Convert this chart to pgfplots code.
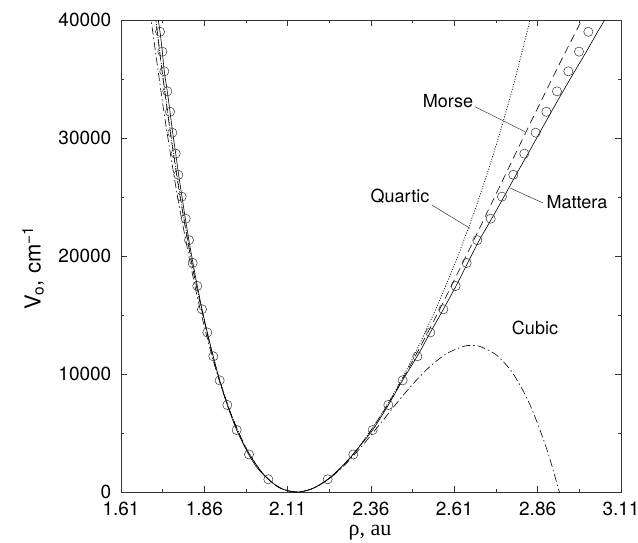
\documentclass[border=0pt]{standalone}
\usepackage{fontspec}
\setmainfont{TeX Gyre Heros}
\newfontfamily\serif{Liberation Serif}
\usepackage{pgfplots}
\pgfplotsset{compat=1.18}

\begin{document}
\begin{tikzpicture}[x=1pt,y=1pt]
\useasboundingbox (0,0) rectangle (638,542);
\begin{axis}[
  at={(121pt,50pt)}, anchor=south west,
  scale only axis, width=500pt, height=472pt,
  xmin=1.61, xmax=3.11, ymin=0, ymax=40000,
  scaled x ticks=false, scaled y ticks=false,
  xtick={1.61,1.86,2.11,2.36,2.61,2.86,3.11},
  xticklabels={1.61,1.86,2.11,2.36,2.61,2.86,3.11},
  ytick={0,10000,20000,30000,40000},
  yticklabels={0,10000,20000,30000,40000},
  minor x tick num=1, minor y tick num=1,
  major tick length=6pt, minor tick length=3pt,
  tick style={black!80, line width=0.5pt},
  axis line style={line width=0.6pt, black!80},
  tick label style={font=\fontsize{19}{21}\selectfont, inner sep=0.5pt},
  xticklabel style={yshift=-9.5pt},
  yticklabel style={xshift=-9pt},
  xlabel={{\serif ρ, au}},
  ylabel={V\textsubscript{o}, cm\textsuperscript{−1}},
  label style={font=\fontsize{22}{25}\selectfont},
  x label style={at={(axis description cs:0.498,-0.086)}, anchor=center},
  y label style={at={(axis description cs:-0.176,0.474)}, anchor=center},
]
% Mattera (solid)
\addplot[black, line width=0.6pt, smooth] coordinates {
(1.719,40500) (1.727,39010) (1.734,37316) (1.740,35620) (1.749,33925) (1.757,32230)
(1.765,30450) (1.774,28705) (1.783,26866) (1.793,25027) (1.803,23162) (1.814,21298)
(1.826,19382) (1.839,17459) (1.853,15484) (1.869,13500) (1.887,11467) (1.906,9433)
(1.929,7373) (1.957,5255) (1.994,3136) (2.020,2000) (2.052,1076) (2.080,440)
(2.100,180) (2.120,40) (2.137,0) (2.155,42) (2.175,190) (2.200,520) (2.230,1076)
(2.265,1950) (2.307,3200) (2.335,4200) (2.365,5255) (2.412,7373) (2.455,9480)
(2.499,11520) (2.538,13520) (2.577,15484) (2.615,17459) (2.650,19410) (2.685,21340)
(2.722,23162) (2.759,25027) (2.795,26880) (2.831,28675) (2.866,30450) (2.901,32220)
(2.936,33955) (2.971,35650) (3.006,37316) (3.040,39000) (3.061,40000) (3.072,40600)
};
% Morse (dashed)
\addplot[black, line width=0.6pt, dash pattern=on 8pt off 5pt, smooth] coordinates {
(1.712,40555) (1.737,34828) (1.762,29677) (1.787,25074) (1.812,20967) (1.837,17327)
(1.887,11326) (1.937,6826) (1.987,3620) (2.037,1517) (2.087,358) (2.137,0)
(2.187,319) (2.237,1204) (2.287,2561) (2.337,4311) (2.387,6375) (2.437,8692)
(2.487,11210) (2.537,13876) (2.587,16663) (2.637,19520) (2.687,22430) (2.737,25357)
(2.787,28286) (2.837,31205) (2.887,34090) (2.937,36930) (2.987,39708) (2.997,40270)
};
% Quartic (dotted)
\addplot[black, line width=0.7pt, dash pattern=on 1pt off 1.6pt, smooth] coordinates {
(1.707,41840) (1.717,39460) (1.737,34955) (1.762,29830) (1.787,25225) (1.812,21112)
(1.837,17460) (1.887,11416) (1.937,6877) (1.987,3640) (2.037,1523) (2.087,358)
(2.137,0) (2.187,318) (2.237,1202) (2.287,2557) (2.337,4309) (2.387,6399)
(2.437,8791) (2.487,11462) (2.537,14410) (2.587,17650) (2.637,21212) (2.687,25148)
(2.737,29534) (2.787,34450) (2.837,40000) (2.857,42440)
};
% Cubic (dash-dot)
\addplot[black, line width=0.6pt, dash pattern=on 8pt off 3pt on 1.5pt off 3pt, smooth] coordinates {
(1.697,40730) (1.702,39646) (1.737,32564) (1.762,28019) (1.787,23880) (1.837,16776)
(1.887,11114) (1.937,6771) (1.987,3616) (2.037,1521) (2.087,359) (2.137,0)
(2.187,316) (2.237,1179) (2.287,2459) (2.337,4029) (2.387,5761) (2.437,7525)
(2.487,9193) (2.537,10636) (2.587,11728) (2.637,12336) (2.662,12420) (2.687,12333)
(2.737,11596) (2.787,9992) (2.837,7389) (2.887,3668) (2.925,0) (2.935,-1092)
};
% ab initio points
\addplot[only marks, mark=o, mark size=4.6pt, mark options={line width=0.5pt, black!80}] coordinates {
(1.727,39000) (1.734,37316) (1.740,35650) (1.749,33955) (1.757,32220) (1.764,30450)
(1.774,28675) (1.782,26880) (1.792,25027) (1.804,23162) (1.814,21340) (1.825,19410)
(1.839,17459) (1.853,15484) (1.869,13520) (1.887,11500) (1.906,9460) (1.929,7373)
(1.957,5255) (1.994,3180) (2.052,1076)
(2.230,1076) (2.307,3180) (2.365,5255) (2.412,7373) (2.455,9460) (2.499,11500)
(2.538,13520) (2.577,15484) (2.614,17459) (2.647,19410) (2.679,21340) (2.719,23162)
(2.753,25027) (2.787,26880) (2.820,28675) (2.854,30450) (2.886,32220) (2.918,33955)
(2.952,35650) (2.984,37316) (3.012,39000)
};
% labels with pointers
\draw[black!80, line width=0.5pt] (axis cs:2.672,32653) -- (axis cs:2.822,30534);
\draw[black!80, line width=0.5pt] (axis cs:2.542,24322) -- (axis cs:2.657,22348);
\draw[black!80, line width=0.5pt] (axis cs:2.777,25763) -- (axis cs:2.876,24492);
\node[font=\fontsize{18}{20}\selectfont] at (axis cs:2.591,33136) {Morse};
\node[font=\fontsize{18}{20}\selectfont] at (axis cs:2.447,25085) {Quartic};
\node[font=\fontsize{18}{20}\selectfont] at (axis cs:2.978,24576) {Mattera};
\node[font=\fontsize{18}{20}\selectfont] at (axis cs:2.852,13898) {Cubic};
\end{axis}
\end{tikzpicture}
\end{document}
